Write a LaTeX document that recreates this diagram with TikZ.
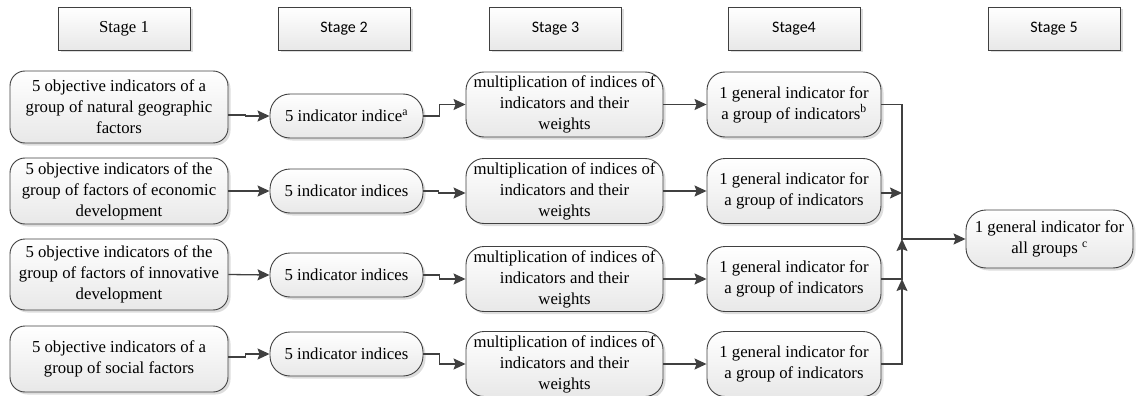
\documentclass[tikz,border=0pt]{standalone}
\usepackage{fontspec}
\setmainfont{Liberation Serif}
\newfontfamily\tnrfont{Liberation Serif}
\newfontfamily\calfont{Carlito}
\usetikzlibrary{shadows,arrows.meta,calc}
\begin{document}
\begin{tikzpicture}[x=1pt,y=-1pt,
  base/.style={draw=black!75, line width=0.9pt, top color=white, bottom color=black!9,
    drop shadow={shadow xshift=2.5pt, shadow yshift=-2.5pt, fill=black!22, opacity=0.6},
    align=center, inner sep=2pt, text=black, font=\tnrfont\fontsize{16.75pt}{21pt}\selectfont},
  stagebox/.style={base, rounded corners=0pt, minimum width=132pt, minimum height=43pt},
  sanslabel/.style={font=\calfont\fontsize{16pt}{19pt}\selectfont},
  rbox/.style={base, rounded corners=15pt},
  abox/.style={rbox, minimum width=218pt},
  bbox/.style={rbox, rounded corners=20pt, minimum width=153pt, minimum height=44pt},
  cbox/.style={rbox, rounded corners=18pt, minimum width=197pt, minimum height=65pt},
  dbox/.style={rbox, rounded corners=18pt, minimum width=174pt, minimum height=65pt},
  conn/.style={draw=black!75, line width=1.3pt, -{Stealth[length=12pt,width=11pt,inset=2pt]}}
]
\useasboundingbox (0,0) rectangle (1136,396);

% stage headers
\node[stagebox] (s1) at (124,28.5) {Stage 1};
\node[stagebox, sanslabel] (s2) at (344,28.5) {Stage 2};
\node[stagebox, sanslabel] (s3) at (555.5,28.5) {Stage 3};
\node[stagebox, sanslabel] (s4) at (794,28.5) {Stage4};
\node[stagebox, sanslabel] (s5) at (1054,28.5) {Stage 5};

% stage 1
\node[abox, minimum height=72pt] (a1) at (119,107) {5 objective indicators of a\\group of natural geographic\\factors};
\node[abox, minimum height=66pt] (a2) at (119,191) {5 objective indicators of the\\group of factors of economic\\development};
\node[abox, minimum height=71pt] (a3) at (119,274.5) {5 objective indicators of the\\group of factors of innovative\\development};
\node[abox, minimum height=66pt] (a4) at (119,359) {5 objective indicators of a\\group of social factors};

% stage 2
\node[bbox] (b1) at (346.5,116) {5 indicator indice\textsuperscript{a}};
\node[bbox] (b2) at (346.5,191) {5 indicator indices};
\node[bbox] (b3) at (346.5,275) {5 indicator indices};
\node[bbox] (b4) at (346.5,354) {5 indicator indices};

% stage 3
\node[cbox] (c1) at (564.5,104.5) {multiplication of indices of\\indicators and their\\weights};
\node[cbox] (c2) at (564.5,191) {multiplication of indices of\\indicators and their\\weights};
\node[cbox] (c3) at (564.5,279) {multiplication of indices of\\indicators and their\\weights};
\node[cbox] (c4) at (564.5,364) {multiplication of indices of\\indicators and their\\weights};

% stage 4
\node[dbox] (d1) at (794,104.5) {1 general indicator for\\a group of indicators\textsuperscript{b}};
\node[dbox] (d2) at (794,191) {1 general indicator for\\a group of indicators};
\node[dbox] (d3) at (794,279) {1 general indicator for\\a group of indicators};
\node[dbox] (d4) at (794,364) {1 general indicator for\\a group of indicators};

% stage 5
\node[rbox, minimum width=167pt, minimum height=58pt, rounded corners=20pt] (e) at (1049.5,239) {1 general indicator for\\all groups \textsuperscript{c}};

\coordinate (j) at (902,239);
\coordinate (k) at (902,279);

% connectors 1 -> 2
\draw[conn] ([yshift=-8pt]a1.east) -- ++(17,0) |- (b1.west);
\draw[conn] (a2.east) -- (b2.west);
\draw[conn] (a3.east) -- (b3.west);
\draw[conn] ([yshift=2pt]a4.east) -- ++(17,0) |- (b4.west);

% connectors 2 -> 3
\draw[conn] (b1.east) -- ++(16,0) |- (c1.west);
\draw[conn] (b2.east) -- ++(15,0) |- ([yshift=-2pt]c2.west);
\draw[conn] (b3.east) -- ++(16,0) |- (c3.west);
\draw[conn] (b4.east) -- ++(16,0) |- (c4.west);

% connectors 3 -> 4
\draw[conn] (c1.east) -- (d1.west);
\draw[conn] (c2.east) -- (d2.west);
\draw[conn] (c3.east) -- (d3.west);
\draw[conn] (c4.east) -- (d4.west);

% connectors 4 -> 5
\draw[conn] (d1.east) -| (j) -- (e.west);
\draw[conn] ([yshift=-2pt]d2.east) -- ([yshift=-2pt]d2.east -| j);
\draw[conn] (d3.east) -| (j);
\draw[conn] (d4.east) -| (k);
\end{tikzpicture}
\end{document}
